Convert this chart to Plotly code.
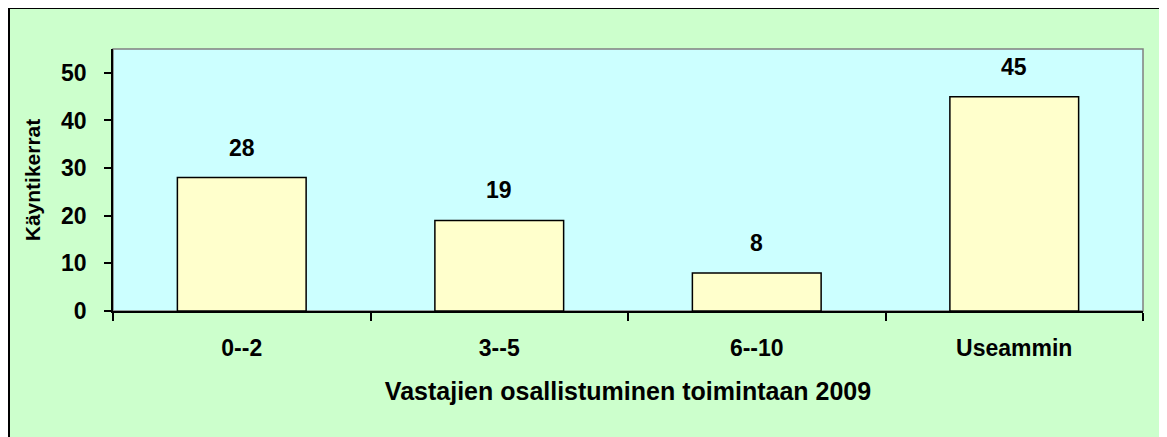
import plotly.graph_objects as go

categories = ["0--2", "3--5", "6--10", "Useammin"]
values = [28, 19, 8, 45]
y_ticks = [0, 10, 20, 30, 40, 50]
x_title = "Vastajien osallistuminen toimintaan 2009"
y_title = "Käyntikerrat"

FONT = "Liberation Sans, Arial, sans-serif"
# the page body adds an 8px margin, so the figure is 8px smaller than the window
W, H = 1159, 429
L, R, T, B = 105, 24, 41, 126
pw, ph = W - L - R, H - T - B


def px_x(p):
    return (p - L) / pw


def px_y(p):
    return (H - B - p) / ph


fig = go.Figure()
fig.add_trace(go.Bar(
    x=categories, y=values, width=0.5,
    marker=dict(color="#FFFFCC", line=dict(color="black", width=1.5)),
    hoverinfo="x+y",
))

for c, v in zip(categories, values):
    fig.add_annotation(x=c, y=v, text=str(v), showarrow=False, yshift=30,
                       yanchor="middle",
                       font=dict(family=FONT, size=23, color="black", weight="bold"))

# white strip right of the outer border
fig.add_shape(type="rect", xref="paper", yref="paper",
              x0=px_x(1155), x1=px_x(W + 2), y0=px_y(H + 5), y1=px_y(-2),
              fillcolor="white", line=dict(width=0), layer="below")
# outer chart border
fig.add_shape(type="rect", xref="paper", yref="paper",
              x0=px_x(1), x1=px_x(1154), y0=px_y(H + 10), y1=px_y(0),
              fillcolor="rgba(0,0,0,0)", line=dict(color="black", width=2), layer="below")
# plot area grey frame
fig.add_shape(type="rect", xref="paper", yref="paper",
              x0=0, x1=1, y0=0, y1=1,
              fillcolor="rgba(0,0,0,0)", line=dict(color="#808080", width=1.5), layer="below")

fig.update_layout(
    width=W, height=H,
    margin=dict(l=L, r=R, t=T, b=B, autoexpand=False),
    paper_bgcolor="#CCFFCC",
    plot_bgcolor="#CCFFFF",
    showlegend=False,
    bargap=0.5,
    font=dict(family=FONT, color="black"),
    xaxis=dict(
        type="category",
        showline=True, linecolor="black", linewidth=2,
        ticks="outside", tickson="boundaries", ticklen=8, tickcolor="black", tickwidth=1.5,
        ticklabelstandoff=15,
        tickfont=dict(family=FONT, size=23, color="black", weight="bold"),
        showgrid=False, zeroline=False,
        title=dict(text=x_title, standoff=23,
                   font=dict(family=FONT, size=25, color="black", weight="bold")),
        automargin=False,
    ),
    yaxis=dict(
        range=[0, 55], tickvals=y_ticks,
        showline=True, linecolor="black", linewidth=1.5,
        ticks="outside", ticklen=7, tickcolor="black", tickwidth=1.5,
        ticklabelstandoff=13,
        tickfont=dict(family=FONT, size=23, color="black", weight="bold"),
        showgrid=False, zeroline=False,
        title=dict(text=y_title, standoff=15,
                   font=dict(family=FONT, size=21, color="black", weight="bold")),
        automargin=False,
    ),
)

fig.write_html("out.html")
